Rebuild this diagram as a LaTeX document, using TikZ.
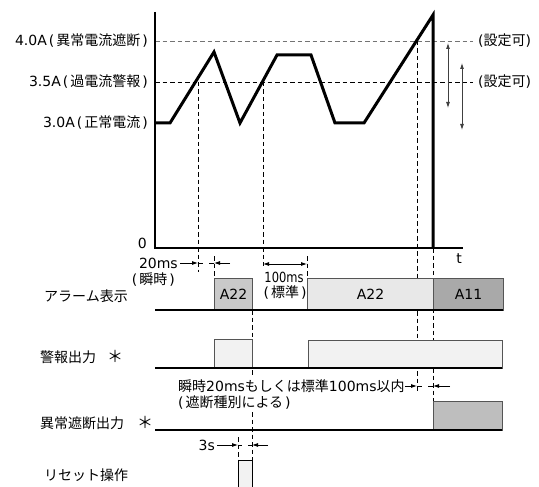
\documentclass[tikz,border=0pt]{standalone}
\usepackage{fontspec}
\usepackage{graphicx}
\setmainfont{DejaVu Sans}
\newfontfamily\cjk{Noto Sans CJK JP}
\usetikzlibrary{arrows.meta}
\definecolor{boxedge}{HTML}{555555}
\definecolor{fillmid}{HTML}{C9C9C9}
\definecolor{filllight}{HTML}{E8E8E8}
\definecolor{fillpale}{HTML}{F2F2F2}
\definecolor{filldark}{HTML}{A9A9A9}
\definecolor{fillout}{HTML}{BEBEBE}
\newcommand{\jpl}{\hspace{2pt}(\hspace{2pt}}
\newcommand{\jpr}{\hspace{2pt})}
\newcommand{\jp}[1]{{\cjk #1}}
\begin{document}
\begin{tikzpicture}[x=1pt,y=-1pt,
  font=\fontsize{14}{16}\selectfont,
  wave/.style={line width=3pt, line join=miter},
  axisline/.style={line width=1.3pt},
  guide/.style={dash pattern=on 4.5pt off 3pt, line width=0.8pt},
  guidegray/.style={guide, draw=black!55},
  baseline/.style={line width=1.4pt},
  sigbox/.style={draw=boxedge, line width=1pt, anchor=north west, inner sep=0pt, rectangle},
  tip/.style={-{Latex[length=6pt,width=4pt]}, line width=0.8pt},
  stub/.style={line width=0.8pt},
  dtip/.style={{Latex[length=6pt,width=4pt]}-{Latex[length=6pt,width=4pt]}, line width=0.8pt, draw=black!75},
  lbl/.style={inner sep=0pt}
]
\useasboundingbox (0,0) rectangle (539,487);

% axes
\coordinate (O) at (155,248);
\coordinate (ytop) at (155,12);
\coordinate (xend) at (463,248);

% horizontal thresholds
\coordinate (h40a) at (155,41); \coordinate (h40b) at (473,41);
\coordinate (h35a) at (155,82); \coordinate (h35b) at (473,82);
\draw[guidegray] (h40a) -- (h40b);
\draw[guide] (h35a) -- (h35b);

% vertical guides
\draw[guide] (198,82) -- (198,272);
\draw[guide] (214,256) -- (214,278);
\draw[guide] (263,82) -- (263,266);
\draw[guide] (307,256) -- (307,278);
\draw[guide] (252,310) -- (252,377);
\draw[guide] (252,412) -- (252,460);
\draw[guide] (238,437) -- (238,460);
\draw[guide] (417,41) -- (417,392);
\draw[guide] (433,248) -- (433,401);

% axes drawn
\draw[axisline] (ytop) -- (O) -- (xend);

% waveform
\coordinate (w0) at (155,123);
\coordinate (w1) at (170,123);
\coordinate (w2) at (214,52);
\coordinate (w3) at (240,123);
\coordinate (w4) at (277,55);
\coordinate (w5) at (311,55);
\coordinate (w6) at (335,123);
\coordinate (w7) at (364,123);
\coordinate (w8) at (433,15);
\coordinate (w9) at (433,248);
\draw[wave] (w0) -- (w1) -- (w2) -- (w3) -- (w4) -- (w5) -- (w6) -- (w7) -- (w8) -- (w9);

% setting range arrows
\coordinate (ra1) at (448,43); \coordinate (ra2) at (448,108);
\coordinate (rb1) at (462,63); \coordinate (rb2) at (462,130);
\draw[dtip] (ra1) -- (ra2);
\draw[dtip] (rb1) -- (rb2);

% axis labels
\node[lbl, anchor=east] (l40) at (148,41) {4.0A\jpl\jp{異常電流遮断}\jpr};
\node[lbl, anchor=east] (l35) at (148,82) {3.5A\jpl\jp{過電流警報}\jpr};
\node[lbl, anchor=east] (l30) at (148,123) {3.0A\jpl\jp{正常電流}\jpr};
\node[lbl, anchor=east] (l0) at (147,243) {0};
\node[lbl] (lt) at (459,259) {t};
\node[lbl, anchor=west] (s40) at (478,41) {(\jp{設定可})};
\node[lbl, anchor=west] (s35) at (478,82) {(\jp{設定可})};

% signal boxes
\node[sigbox, fill=fillmid, minimum width=38pt, minimum height=32pt] (a22a) at (214,278) {};
\node at (a22a.center) {A22};
\node[sigbox, fill=filllight, minimum width=126pt, minimum height=32pt] (a22b) at (307,278) {};
\node at (a22b.center) {A22};
\node[sigbox, fill=filldark, minimum width=70pt, minimum height=32pt] (a11) at (433,278) {};
\node at (a11.center) {A11};
\node[sigbox, fill=fillpale, minimum width=38pt, minimum height=29pt] (w1box) at (214,339) {};
\node[sigbox, fill=fillpale, minimum width=194pt, minimum height=28pt] (w2box) at (308,340) {};
\node[sigbox, fill=fillout, minimum width=69pt, minimum height=29pt] (ebox) at (433,401) {};
\filldraw[fill=fillpale, draw=black, line width=1pt] (238,490) -- (238,460) -- (252,460) -- (252,490);

% baselines
\draw[baseline] (155,310) -- (503,310);
\draw[baseline] (155,368) -- (502,368);
\draw[baseline] (155,430) -- (502,430);

% row labels
\node[lbl, anchor=west] (r1) at (44,296) {\jp{アラーム表示}};
\node[lbl, anchor=west] (r2) at (40,357) {\jp{警報出力}};
\node[lbl] (r2s) at (115,356) {\jp{\fontsize{16}{16}\selectfont ＊}};
\node[lbl, anchor=west] (r3) at (40,423) {\jp{異常遮断出力}};
\node[lbl] (r3s) at (145,422) {\jp{\fontsize{16}{16}\selectfont ＊}};
\node[lbl, anchor=west] (r4) at (44,475) {\jp{リセット操作}};

% 20ms annotation
\node[lbl, anchor=east] (t20) at (178,263) {20ms};
\node[lbl, anchor=east] (t20b) at (175,280) {\jpl\jp{瞬時}\jpr};
\coordinate (a20s) at (180,263); \coordinate (a20e) at (198,263); \coordinate (a20x) at (203,263);
\coordinate (b20s) at (230,263); \coordinate (b20e) at (214,263); \coordinate (b20x) at (209,263);
\draw[tip] (a20s) -- (a20e);
\draw[stub] (a20e) -- (a20x);
\draw[tip] (b20s) -- (b20e);
\draw[stub] (b20e) -- (b20x);

% 100ms annotation
\coordinate (c1) at (263,264); \coordinate (c2) at (307,264);
\draw[dtip, draw=black] (c1) -- (c2);
\node[lbl] (t100) at (284,277) {\scalebox{0.82}[1]{100ms}};
\node[lbl] (t100b) at (284,293) {\jpl\jp{標準}\jpr};

% cutoff delay annotation
\node[lbl, anchor=west] (tcut) at (178,386) {\jp{瞬時}20ms\jp{もしくは標準}100ms\jp{以内}};
\node[lbl, anchor=west] (tcutb) at (176,403) {\jpl\jp{遮断種別による}\jpr};
\coordinate (d1s) at (tcut.east); \coordinate (d1e) at (417,386); \coordinate (d1x) at (422,386);
\coordinate (d2s) at (450,386); \coordinate (d2e) at (433,386); \coordinate (d2x) at (428,386);
\draw[tip] (d1s) -- (d1e);
\draw[stub] (d1e) -- (d1x);
\draw[tip] (d2s) -- (d2e);
\draw[stub] (d2e) -- (d2x);

% 3s annotation
\node[lbl, anchor=east] (t3) at (215,445) {3s};
\coordinate (e1s) at (217,445); \coordinate (e1e) at (238,445); \coordinate (e1x) at (242,445);
\coordinate (e2s) at (268,445); \coordinate (e2e) at (252,445); \coordinate (e2x) at (248,445);
\draw[tip] (e1s) -- (e1e);
\draw[stub] (e1e) -- (e1x);
\draw[tip] (e2s) -- (e2e);
\draw[stub] (e2e) -- (e2x);
\end{tikzpicture}
\end{document}
